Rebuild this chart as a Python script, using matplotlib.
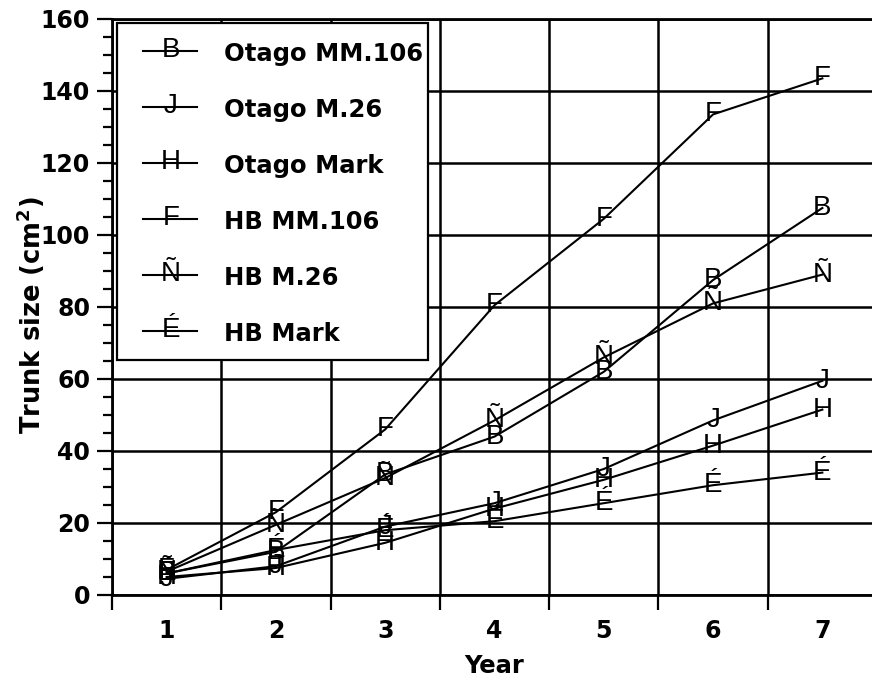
import numpy as np
import matplotlib
matplotlib.use("Agg")
import matplotlib.pyplot as plt
from matplotlib.patches import Rectangle
from matplotlib.lines import Line2D

# ---- data ----
years = [1, 2, 3, 4, 5, 6, 7]
series_names = ["Otago MM.106", "Otago M.26", "Otago Mark", "HB MM.106", "HB M.26", "HB Mark"]
series_markers = ["B", "J", "H", "F", "Ñ", "É"]
otago_mm106 = [6, 12, 33.5, 44, 62, 87.5, 107.5]
otago_m26 = [4.5, 8, 19, 25.5, 35, 48.5, 59.5]
otago_mark = [5, 7.5, 14.5, 24, 32, 41.5, 51.5]
hb_mm106 = [7, 23, 46, 80.5, 104.5, 133.5, 143.5]
hb_m26 = [6.5, 19.5, 32.5, 48.5, 66, 81, 89]
hb_mark = [6, 12.5, 18, 20.5, 25.5, 30.5, 34]
series_values = [otago_mm106, otago_m26, otago_mark, hb_mm106, hb_m26, hb_mark]
x_tick_labels = ["1", "2", "3", "4", "5", "6", "7"]
y_ticks = [0, 20, 40, 60, 80, 100, 120, 140, 160]

plt.rcParams["font.family"] = ["DejaVu Sans"]
plt.rcParams["mathtext.fontset"] = "dejavusans"

W, H = 872, 680
fig = plt.figure(figsize=(W / 100, H / 100), dpi=100)


def fx(px):
    return px / W


def fy(py):
    return 1 - py / H


ax = fig.add_axes([fx(112), fy(595), (877 - 112) / W, (595 - 19) / H])
ax.set_xlim(0.5, 7.5)
ax.set_ylim(0, 160)

for s in ax.spines.values():
    s.set_linewidth(2.0)
    s.set_color("black")

# x ticks: marks at half years, labels at years
ax.set_xticks(np.arange(0.5, 7.0, 1.0))
ax.set_xticklabels([])
ax.set_xticks(years, minor=True)
ax.set_xticklabels(x_tick_labels, minor=True, fontsize=17, fontweight="bold")
ax.tick_params(axis="x", which="major", direction="out", length=10.8, width=1.6, color="black")
ax.tick_params(axis="x", which="minor", length=0, pad=17)

ax.set_yticks(y_ticks)
ax.set_yticklabels([str(v) for v in y_ticks], fontsize=17, fontweight="bold")
ax.set_yticks(np.arange(0, 161, 5), minor=True)
ax.tick_params(axis="y", which="major", direction="out", length=10.8, width=1.6, pad=5)
ax.tick_params(axis="y", which="minor", direction="out", length=6.5, width=1.6)

ax.grid(True, which="major", color="black", linewidth=1.8)
ax.set_axisbelow(True)

for vals, mk in zip(series_values, series_markers):
    ax.plot(years, vals, color="black", linewidth=1.5, zorder=3)
    for x, y in zip(years, vals):
        ax.annotate(mk, (x, y), xytext=(0, -5), textcoords="offset points",
                    ha="center", va="baseline", fontsize=20,
                    family=["Liberation Sans", "DejaVu Sans"], color="black", zorder=4)

# ---- legend (manual) ----
fig.patches.append(Rectangle((fx(117), fy(360)), (428 - 117) / W, (360 - 23) / H,
                             transform=fig.transFigure, facecolor="white",
                             edgecolor="black", linewidth=1.6, zorder=5))
row_y = [51, 107, 163, 219, 275, 331]
for ry, name, mk in zip(row_y, series_names, series_markers):
    fig.lines.append(Line2D([fx(143), fx(197)], [fy(ry), fy(ry)], transform=fig.transFigure,
                            color="black", linewidth=1.5, zorder=6))
    fig.text(fx(171), fy(ry + 6), mk, ha="center", va="baseline", fontsize=20,
             family=["Liberation Sans", "DejaVu Sans"], zorder=7)
    fig.text(fx(224), fy(ry + 10), name, ha="left", va="baseline", fontsize=17.5,
             fontweight="bold", zorder=7)

fig.text(fx(494), fy(673), "Year", ha="center", va="baseline", fontsize=17.5, fontweight="bold")
fig.text(fx(31), fy(315), "Trunk size (cm$^\\mathbf{2}$)", rotation=90, ha="center",
         va="center", fontsize=18.5, fontweight="bold")

fig.savefig("out.png", dpi=100)
